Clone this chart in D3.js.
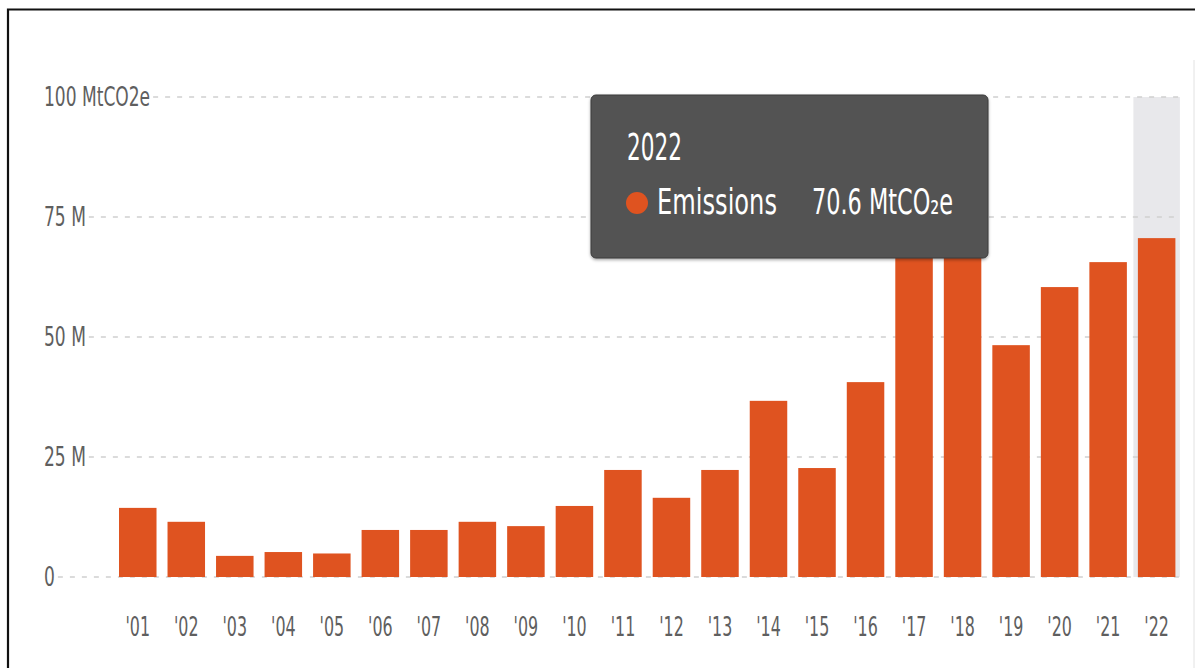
<!DOCTYPE html>
<html>
<head>
<meta charset="utf-8">
<script src="https://cdn.jsdelivr.net/npm/d3@7"></script>
<style>
  html, body { margin: 0; padding: 0; background: #fff; }
  svg { display: block; }
  .lbl { font-family: "Liberation Sans Narrow", "DejaVu Sans Condensed", "Arial Narrow", sans-serif; }
</style>
</head>
<body>
<svg id="chart" width="1195" height="668"></svg>
<script>
// Annual emissions, MtCO2e
const years = ["2001","2002","2003","2004","2005","2006","2007","2008","2009","2010","2011",
               "2012","2013","2014","2015","2016","2017","2018","2019","2020","2021","2022"];
const tickLabels = ["'01","'02","'03","'04","'05","'06","'07","'08","'09","'10","'11",
                    "'12","'13","'14","'15","'16","'17","'18","'19","'20","'21","'22"];
const emissions = [14.4, 11.5, 4.4, 5.2, 4.9, 9.8, 9.8, 11.5, 10.6, 14.8, 22.3,
                   16.5, 22.3, 36.7, 22.7, 40.6, 77.0, 74.0, 48.3, 60.4, 65.6, 70.6];
const yTicks = [0, 25, 50, 75, 100];
const yTickLabels = ["0", "25 M", "50 M", "75 M", "100 MtCO2e"];
const seriesName = "Emissions";
const unit = "MtCO\u2082e";

const barColor = "#df5320";
const textColor = "#5f5f5f";
const squeezeX = 0.68; // horizontal compression of the condensed face, x axis
const squeezeY = 0.73; // same for the y axis labels

const svg = d3.select("#chart");

// frame
svg.append("path")
  .attr("d", "M8,668 L8,9.5 L1195,9.5")
  .attr("fill", "none").attr("stroke", "#111").attr("stroke-width", 2.2);
svg.append("line")
  .attr("x1", 1194).attr("x2", 1194).attr("y1", 60).attr("y2", 668)
  .attr("stroke", "#e2e2e2").attr("stroke-width", 1);

const x = d3.scaleBand().domain(years).range([113.5, 1180.9])
  .paddingInner(0.227).paddingOuter(0.1135);
const y = d3.scaleLinear().domain([0, 100]).range([577, 97]);

// highlight column for the selected year
const sel = years.length - 1;
svg.append("rect")
  .attr("x", x(years[sel]) - (x.step() - x.bandwidth()) / 2 + 1)
  .attr("width", x.step() - 2)
  .attr("y", y(100)).attr("height", y(0) - y(100))
  .attr("fill", "#e8e8eb");

// y labels and dashed gridlines
const yg = svg.append("g");
yTicks.forEach((v, i) => {
  const t = yg.append("text").attr("class", "lbl")
    .attr("transform", `translate(44,${y(v) + 9}) scale(${squeezeY},1)`)
    .attr("font-size", 26).attr("fill", textColor)
    .text(yTickLabels[i]);
  const w = t.node().getBBox().width * squeezeY;
  yg.append("line")
    .attr("x1", 44 + w + 3).attr("x2", 1180)
    .attr("y1", y(v)).attr("y2", y(v))
    .attr("stroke", "#cfcfcf").attr("stroke-width", 1.6)
    .attr("stroke-dasharray", "5,7");
});

// bars
svg.append("g").selectAll("rect")
  .data(emissions)
  .join("rect")
  .attr("x", (d, i) => x(years[i]))
  .attr("width", x.bandwidth())
  .attr("y", d => y(d))
  .attr("height", d => y(0) - y(d))
  .attr("fill", barColor);

// x axis
const xAxis = d3.axisBottom(x).tickSize(0).tickPadding(0)
  .tickFormat((d, i) => tickLabels[i]);
const xg = svg.append("g").attr("transform", "translate(0,636)").call(xAxis);
xg.select(".domain").remove();
xg.selectAll("text")
  .attr("class", "lbl")
  .attr("y", 0).attr("dy", 0)
  .attr("font-size", 26)
  .attr("fill", textColor)
  .attr("transform", `scale(${squeezeX},1)`);

// tooltip
const defs = svg.append("defs");
const f = defs.append("filter").attr("id", "shadow")
  .attr("x", "-5%").attr("y", "-5%").attr("width", "110%").attr("height", "115%");
f.append("feDropShadow").attr("dx", 0).attr("dy", 1.5).attr("stdDeviation", 1.5)
  .attr("flood-color", "#000").attr("flood-opacity", 0.35);

const tip = svg.append("g").attr("transform", "translate(591,95)");
tip.append("rect")
  .attr("width", 397).attr("height", 163).attr("rx", 5)
  .attr("fill", "#535353").attr("stroke", "#3b3b3b").attr("stroke-width", 1)
  .attr("filter", "url(#shadow)");
tip.append("text").attr("class", "lbl")
  .attr("x", 36).attr("y", 65)
  .attr("font-size", 37).attr("fill", "#fff")
  .attr("textLength", 55).attr("lengthAdjust", "spacingAndGlyphs")
  .text(years[sel]);
tip.append("circle").attr("cx", 46).attr("cy", 108).attr("r", 11).attr("fill", barColor);
tip.append("text").attr("class", "lbl")
  .attr("x", 66).attr("y", 119)
  .attr("font-size", 36).attr("fill", "#fff")
  .attr("textLength", 120).attr("lengthAdjust", "spacingAndGlyphs")
  .text(seriesName);
tip.append("text").attr("class", "lbl")
  .attr("x", 221).attr("y", 119)
  .attr("font-size", 36).attr("fill", "#fff")
  .attr("textLength", 141).attr("lengthAdjust", "spacingAndGlyphs")
  .text(`${emissions[sel]} ${unit}`);
</script>
</body>
</html>
